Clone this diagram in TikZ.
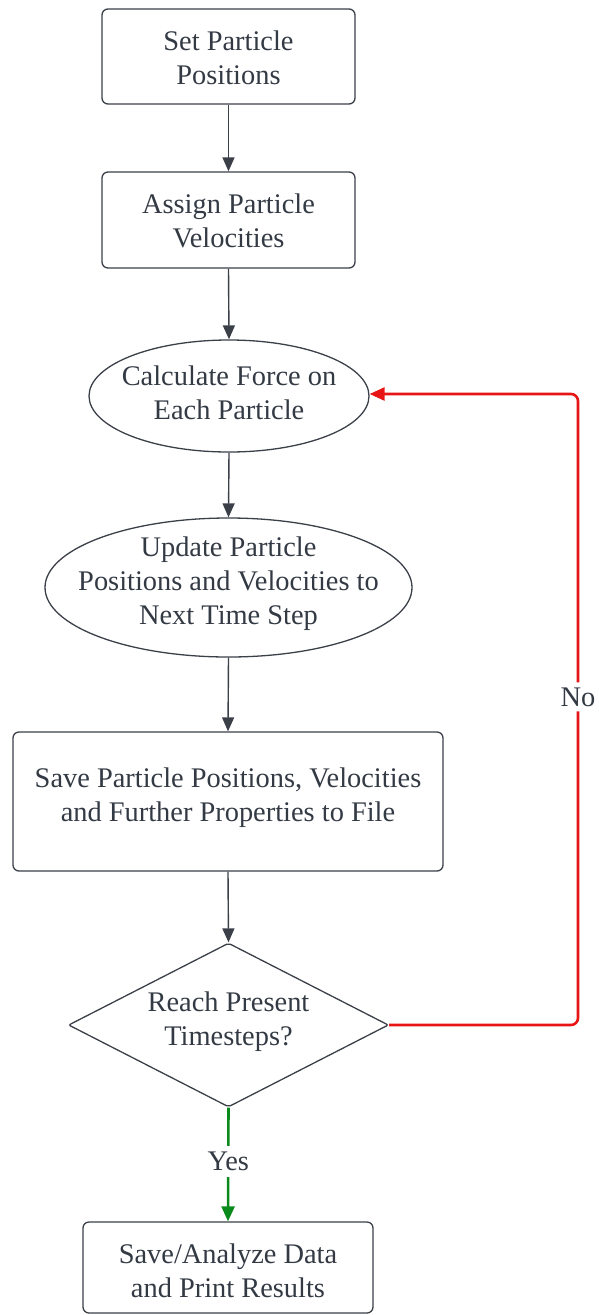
\documentclass[tikz,border=0pt]{standalone}
\usepackage{fontspec}
\setmainfont{Liberation Serif}
\usetikzlibrary{shapes.geometric,arrows.meta}
\definecolor{ink}{HTML}{3A3F48}
\definecolor{txt}{HTML}{333A44}
\definecolor{nored}{HTML}{E81515}
\definecolor{yesgreen}{HTML}{0A8A1A}
\begin{document}
\begin{tikzpicture}[x=1pt,y=-1pt,
  lbl/.style={text=txt,font=\fontsize{28.4}{34}\selectfont,align=center,inner sep=0pt},
  procbox/.style={draw=ink,line width=1.3pt,rounded corners=6pt,inner sep=0pt},
  ellbox/.style={draw=ink,line width=1.3pt,ellipse,inner sep=0pt},
  decbox/.style={draw=ink,line width=1.3pt,diamond,inner sep=0pt,rounded corners=2pt},
  flow/.style={draw=ink,line width=1.4pt,-{Triangle[length=14pt,width=12pt]}},
  noflow/.style={draw=nored,line width=2.6pt,rounded corners=7pt,-{Triangle[length=15pt,width=13pt]}},
  yesflow/.style={draw=yesgreen,line width=2.6pt,-{Triangle[length=15pt,width=13pt]}}]
\useasboundingbox (0,0) rectangle (599,1315);

\node[procbox,minimum width=253pt,minimum height=95pt] (b1) at (228.5,56.5) {};
\node[lbl] (t1) at (228.5,58) {Set Particle\\Positions};

\node[procbox,minimum width=253pt,minimum height=96pt] (b2) at (228.5,220) {};
\node[lbl] (t2) at (228.5,221) {Assign Particle\\Velocities};

\node[ellbox,minimum width=280pt,minimum height=112pt] (e1) at (229,396) {};
\node[lbl] (t3) at (229,393) {Calculate Force on\\Each Particle};

\node[ellbox,minimum width=367pt,minimum height=139pt] (e2) at (228.5,587.5) {};
\node[lbl] (t4) at (228.5,584) {Update Particle\\Positions and Velocities to\\Next Time Step};

\node[procbox,minimum width=430pt,minimum height=139pt] (b3) at (228,801.5) {};
\node[lbl] (t5) at (228,798) {Save Particle Positions, Velocities\\and Further Properties to File};

\node[decbox,minimum width=320pt,minimum height=164pt] (d1) at (228.5,1025) {};
\node[lbl] (t6) at (228.5,1022) {Reach Present\\Timesteps?};

\node[procbox,minimum width=290pt,minimum height=91pt] (b4) at (228,1267.5) {};
\node[lbl] (t7) at (228,1271) {Save/Analyze Data\\and Print Results};

\coordinate (c1) at (578,1025);
\coordinate (c2) at (578,394);

\draw[flow] (b1.south) -- (b2.north);
\draw[flow] (b2.south) -- (e1.north);
\draw[flow] (e1.south) -- (e2.north);
\draw[flow] (e2.south) -- (b3.north);
\draw[flow] (b3.south) -- (d1.north);

\draw[noflow] (d1.east) -- (c1) -- node[pos=0.52,fill=white,lbl,inner sep=5pt] (no) {No} (c2) -- (e1.east|-c2);
\draw[yesflow] (d1.south) -- node[pos=0.47,fill=white,lbl,inner sep=6pt] (yes) {Yes} (b4.north);
\end{tikzpicture}
\end{document}
